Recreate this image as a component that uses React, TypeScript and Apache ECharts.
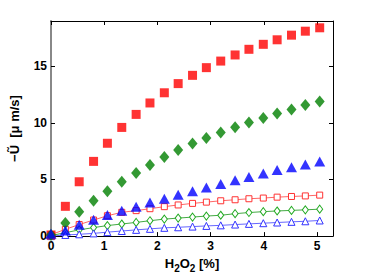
import React, { useEffect, useRef } from "react";
import * as echarts from "echarts";

const xValues = [0, 0.27, 0.53, 0.8, 1.06, 1.33, 1.6, 1.86, 2.13, 2.39, 2.66, 2.92, 3.19, 3.46, 3.72, 3.99, 4.25, 4.52, 4.78, 5.05];
const redFilled = [0.1, 2.63, 4.8, 6.6, 8.2, 9.6, 10.75, 11.76, 12.66, 13.47, 14.2, 14.88, 15.46, 16.0, 16.5, 16.94, 17.34, 17.75, 18.1, 18.4];
const greenFilled = [0.1, 1.16, 2.14, 3.13, 3.97, 4.81, 5.57, 6.29, 6.99, 7.6, 8.17, 8.67, 9.16, 9.62, 10.03, 10.43, 10.84, 11.19, 11.59, 11.88];
const blueFilled = [0.2, 0.5, 1.0, 1.45, 1.86, 2.23, 2.6, 2.96, 3.3, 3.65, 3.97, 4.29, 4.6, 4.93, 5.22, 5.54, 5.83, 6.09, 6.32, 6.58];
const redHollow = [0.12, 0.6, 1.02, 1.42, 1.8, 2.1, 2.25, 2.42, 2.6, 2.75, 2.89, 3.0, 3.12, 3.21, 3.3, 3.36, 3.44, 3.5, 3.55, 3.62];
const greenHollow = [0.05, 0.3, 0.55, 0.75, 0.93, 1.07, 1.21, 1.36, 1.5, 1.59, 1.68, 1.77, 1.84, 1.98, 2.08, 2.16, 2.22, 2.27, 2.32, 2.38];
const blueHollow = [0.0, 0.1, 0.16, 0.24, 0.35, 0.45, 0.55, 0.64, 0.73, 0.78, 0.84, 0.9, 0.95, 1.02, 1.08, 1.14, 1.2, 1.26, 1.31, 1.38];
const xTicks = [0, 1, 2, 3, 4, 5];
const yTicks = [0, 5, 10, 15];

const pair = (ys: number[]) => xValues.map((x, i) => [x, ys[i]]);

export default function App() {
  const ref = useRef<HTMLDivElement>(null);
  useEffect(() => {
    document.body.style.margin = "0";
    if (!ref.current) return;
    const chart = echarts.init(ref.current, null, { renderer: "svg" });
    const font = "Liberation Sans";
    const labelStyle = { color: "#000", fontWeight: "bold", fontSize: 12, fontFamily: font };
    const hollow = (name: string, ys: number[], color: string, lineColor: string, symbol: string, size: any) => ({
      name,
      type: "line",
      data: pair(ys),
      symbol,
      symbolSize: size,
      showSymbol: true,
      lineStyle: { color: lineColor, width: 1 },
      itemStyle: { color: "#fff", borderColor: color, borderWidth: 1 },
      z: 2,
    });
    const filled = (name: string, ys: number[], color: string, symbol: string, size: any) => ({
      name,
      type: "scatter",
      data: pair(ys),
      symbol,
      symbolSize: size,
      itemStyle: { color },
      z: 3,
    });
    chart.setOption({
      animation: false,
      grid: { left: 48, top: 21, right: 36, bottom: 37 },
      xAxis: [
        {
          type: "value",
          min: 0,
          max: 5.3,
          interval: 1,
          name: "{a|H}{s|2}{a|O}{s|2}{a| [%]}",
          nameLocation: "middle",
          nameGap: 18,
          nameTextStyle: {
            rich: {
              a: { fontSize: 13, fontWeight: "bold", fontFamily: font, color: "#000", lineHeight: 16, verticalAlign: "top" },
              s: { fontSize: 10, fontWeight: "bold", fontFamily: font, color: "#000", lineHeight: 16, verticalAlign: "bottom", padding: [6, 0, 0, 0] },
            },
          },
          axisLine: { show: true, lineStyle: { color: "#000", width: 1 } },
          axisTick: { show: true, inside: true, length: 4, lineStyle: { color: "#000" } },
          axisLabel: {
            ...labelStyle,
            margin: 4,
            showMaxLabel: false,
            formatter: (v: number) => (xTicks.includes(v) ? String(v) : ""),
          },
          splitLine: { show: false },
        },
        {
          type: "value",
          position: "top",
          min: 0,
          max: 5.3,
          interval: 1,
          axisLine: { show: true, onZero: false, lineStyle: { color: "#000", width: 1 } },
          axisTick: { show: true, inside: true, length: 4, lineStyle: { color: "#000" } },
          axisLabel: { show: false },
          splitLine: { show: false },
        },
      ],
      yAxis: [
        {
          type: "value",
          min: 0,
          max: 19,
          interval: 5,
          name: "−Ũ  [μ m/s]",
          nameLocation: "middle",
          nameGap: 30,
          nameTextStyle: { ...labelStyle, fontSize: 13 },
          axisLine: { show: true, lineStyle: { color: "#888", width: 2 } },
          axisTick: { show: true, inside: true, length: 4, lineStyle: { color: "#000" } },
          axisLabel: {
            ...labelStyle,
            margin: 4,
            showMaxLabel: false,
            formatter: (v: number) => (yTicks.includes(v) ? String(v) : ""),
          },
          splitLine: { show: false },
        },
        {
          type: "value",
          position: "right",
          min: 0,
          max: 19,
          interval: 5,
          axisLine: { show: true, onZero: false, lineStyle: { color: "#000", width: 1 } },
          axisTick: { show: true, inside: true, length: 4, lineStyle: { color: "#000" } },
          axisLabel: { show: false },
          splitLine: { show: false },
        },
      ],
      series: [
        hollow("redHollow", redHollow, "#ff3333", "#ff6666", "rect", 6),
        hollow("greenHollow", greenHollow, "#22aa22", "#44aa44", "diamond", [6, 8]),
        hollow("blueHollow", blueHollow, "#3333ff", "#6666ff", "triangle", 7),
        filled("redFilled", redFilled, "#ff0000", "rect", 9),
        filled("greenFilled", greenFilled, "#007f00", "diamond", [10, 12]),
        filled("blueFilled", blueFilled, "#0000ff", "triangle", [11, 10]),
      ],
    });
    return () => chart.dispose();
  }, []);
  return <div ref={ref} style={{ width: 369, height: 278 }} />;
}
